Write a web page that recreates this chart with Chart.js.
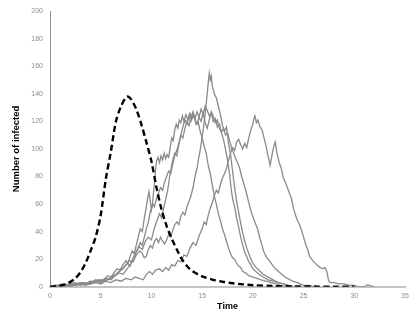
<!DOCTYPE html>
<html>
<head>
<meta charset="utf-8">
<script src="https://cdn.jsdelivr.net/npm/chart.js@4"></script>
<style>
html,body{margin:0;padding:0;background:#fff;}
#wrap{width:415px;height:319px;position:relative;}
</style>
</head>
<body>
<div id="wrap"><canvas id="c"></canvas></div>
<script>
// Axis ticks
const xTicks = [0, 5, 10, 15, 20, 25, 30, 35];
const yTicks = [0, 20, 40, 60, 80, 100, 120, 140, 160, 180, 200];

// Deterministic model (dashed)
const detT = [0,0.5,1,1.5,2,2.5,3,3.5,4,4.5,5,5.5,6,6.5,7,7.5,7.7,8,8.5,9,9.5,10,10.5,11,11.5,12,12.5,13,13.5,14,15,16,17,18,19,20,22,24,26,28,30];
const detI = [0,0.3,0.8,1.6,3.5,6,10.5,17,26,36,52,78,98,120,131,137.5,138,136,129,118,105,91,72,56,44,35,27,20,15,11.5,7.5,5.2,3.6,2.5,1.7,1.1,0.5,0.2,0.1,0,0];

// Stochastic run 1
const run1T = [0,0.4,0.8,1.2,1.6,2.0,2.4,2.8,3.2,3.6,4.0,4.4,4.8,5.1,5.4,5.7,6.0,6.3,6.6,6.9,7.2,7.5,7.7,7.9,8.1,8.3,8.5,8.7,8.9,9.1,9.3,9.5,9.6,9.75,9.85,10.0,10.1,10.2,10.3,10.4,10.5,10.65,10.8,10.95,11.1,11.25,11.4,11.55,11.7,11.85,12.0,12.15,12.3,12.45,12.6,12.75,12.9,13.05,13.2,13.4,13.6,13.8,14.0,14.2,14.4,14.6,14.8,15.0,15.2,15.4,15.6,15.8,16.0,16.2,16.4,16.6,16.8,17.0,17.2,17.4,17.6,17.8,18.0,18.2,18.4,18.6,18.8,19.0,19.3,19.6,20.0,20.4,20.8,21.3,21.8,22.3,22.7,23.2];
const run1I = [0,1,1,2,1,2,3,2,3,2,4,3,5,4,6,8,7,10,13,12,16,19,17,22,26,24,30,36,42,40,50,58,63,69,64,56,60,68,76,84,91,94,90,95,92,97,93,96,94,101,108,106,114,118,115,121,119,124,120,125,121,126,122,124,118,120,113,108,102,97,88,82,74,66,60,53,48,42,38,33,28,24,21,20,17,15,14,11,10,8,7,6,5,4,3,2,1,0];

// Stochastic run 2
const run2T = [0,0.5,1.0,1.5,2.0,2.5,3.0,3.5,4.0,4.5,5.0,5.5,6.0,6.4,6.8,7.2,7.6,8.0,8.3,8.6,8.9,9.1,9.3,9.5,9.7,9.85,10.0,10.15,10.3,10.5,10.7,10.9,11.1,11.3,11.5,11.7,11.9,12.1,12.3,12.5,12.7,12.9,13.1,13.3,13.5,13.7,13.9,14.1,14.3,14.5,14.7,14.9,15.1,15.3,15.5,15.7,15.9,16.1,16.3,16.5,16.7,16.9,17.1,17.3,17.5,17.7,17.85,18.0,18.2,18.4,18.6,18.8,19.0,19.2,19.4,19.6,19.8,20.0,20.3,20.6,21.0,21.5,22.0,22.5,23.0,23.5,24.0];
const run2I = [0,1,0,1,2,1,2,3,2,4,3,5,6,8,10,9,13,17,22,27,32,30,36,42,47,53,57,60,58,64,68,72,70,76,80,84,82,89,95,99,104,110,116,121,118,124,120,126,122,127,123,129,125,131,128,124,126,120,122,116,118,112,107,100,92,82,72,64,58,50,43,36,30,25,22,18,16,13,11,9,7,5,4,3,2,1,0];

// Stochastic run 3
const run3T = [0,0.5,1.0,1.5,2.0,2.5,3.0,3.5,4.0,4.5,5.0,5.5,6.0,6.4,6.8,7.2,7.6,7.9,8.2,8.5,8.8,9.1,9.4,9.7,10.0,10.2,10.4,10.6,10.8,11.0,11.2,11.4,11.6,11.8,11.95,12.1,12.3,12.5,12.7,12.9,13.1,13.3,13.5,13.7,13.9,14.1,14.3,14.5,14.7,14.9,15.1,15.3,15.5,15.7,15.9,16.1,16.3,16.5,16.7,16.9,17.1,17.3,17.5,17.7,17.9,18.1,18.3,18.5,18.7,18.9,19.1,19.3,19.5,19.7,19.9,20.1,20.3,20.5,20.7,20.9,21.1,21.3,21.5,21.7,21.9,22.1,22.4,22.7,23.0,23.4,23.9,24.4,25.0,25.5,26.0];
const run3I = [0,0,1,2,1,2,3,2,3,5,4,6,5,8,11,13,17,15,21,25,29,27,33,36,34,40,45,49,53,50,57,63,70,80,86,92,97,95,103,110,108,115,120,117,123,127,121,118,123,120,126,119,115,121,127,124,119,121,115,112,115,110,112,106,101,97,93,90,86,80,75,70,64,58,53,49,45,41,35,30,25,22,20,18,16,14,12,10,8,6,4,3,1,1,0];

// Stochastic run 4
const run4T = [0,0.5,1.0,1.5,2.0,2.5,3.0,3.5,4.0,4.5,5.0,5.5,6.0,6.5,7.0,7.4,7.8,8.2,8.5,8.85,9.1,9.3,9.5,9.7,9.9,10.1,10.3,10.5,10.7,10.9,11.1,11.3,11.5,11.7,11.9,12.1,12.3,12.5,12.7,12.9,13.1,13.3,13.5,13.7,13.9,14.1,14.3,14.5,14.65,14.8,14.95,15.1,15.25,15.4,15.5,15.6,15.7,15.8,15.9,16.0,16.2,16.4,16.6,16.8,17.0,17.2,17.4,17.6,17.8,18.0,18.2,18.4,18.6,18.8,19.0,19.2,19.4,19.6,19.8,20.0,20.3,20.6,21.0,21.5,22.0,22.5,23.0,23.5,24.0];
const run4I = [0,1,1,0,1,2,1,2,4,3,5,4,7,9,12,15,19,18,23,26,24,21,22,27,30,28,33,35,32,36,33,31,34,38,36,41,45,47,45,51,54,52,58,62,66,72,80,86,93,99,106,114,122,133,140,148,155,150,153,146,140,137,131,125,117,113,116,104,96,84,72,62,54,46,39,33,28,24,20,17,14,12,9,7,5,3,2,1,0];

// Stochastic run 5
const run5T = [0,0.5,1.0,1.5,2.0,2.5,3.0,3.5,4.0,4.5,5.0,5.5,6.0,6.5,7.0,7.5,8.0,8.4,8.8,9.2,9.5,9.8,10.1,10.4,10.8,11.1,11.4,11.7,12.0,12.3,12.6,12.9,13.2,13.5,13.8,14.1,14.4,14.7,15.0,15.2,15.4,15.6,15.8,16.0,16.2,16.4,16.6,16.8,17.0,17.2,17.4,17.6,17.8,18.0,18.2,18.4,18.6,18.8,19.0,19.2,19.4,19.6,19.8,20.0,20.1,20.2,20.35,20.5,20.7,20.9,21.1,21.3,21.5,21.7,21.9,22.1,22.2,22.4,22.6,22.8,23.0,23.2,23.4,23.6,23.8,24.0,24.2,24.4,24.6,24.8,25.0,25.2,25.4,25.6,25.8,26.0,26.3,26.6,26.9,27.1,27.3,27.45,27.6,28.0,28.5,29.0,29.5,30.0,30.4,31.0,31.3,31.7,32.0];
const run5I = [0,0,1,1,0,1,2,1,2,3,2,4,3,5,4,6,5,7,6,5,9,11,9,12,13,11,14,12,16,15,19,18,23,22,28,32,30,37,42,47,45,52,57,61,66,70,68,74,79,82,86,92,97,101,99,105,107,103,100,104,101,108,114,118,122,124,119,121,116,114,108,102,95,88,96,103,105,96,90,86,79,76,72,68,64,57,52,48,45,41,36,31,27,22,20,18,16,14,13,14,11,5,3,3,2,2,1,1,0,0,1.5,0.5,0];

const pts = (t, v) => t.map((x, i) => ({x: x, y: v[i]}));
const GRAY = '#8a8a8a';
const gray = (t, v) => ({data: pts(t, v), borderColor: GRAY, borderWidth: 1.3, pointRadius: 0, tension: 0, fill: false});

new Chart(document.getElementById('c'), {
  type: 'line',
  data: {
    datasets: [
      {data: pts(detT, detI), borderColor: '#000', borderWidth: 2.4, borderDash: [6, 3.5], pointRadius: 0, tension: 0.3, fill: false},
      gray(run1T, run1I),
      gray(run2T, run2I),
      gray(run3T, run3I),
      gray(run4T, run4I),
      gray(run5T, run5I)
    ]
  },
  options: {
    responsive: true,
    maintainAspectRatio: false,
    animation: false,
    layout: {padding: {left: 0, right: 10, top: 7, bottom: 0}},
    plugins: {legend: {display: false}, tooltip: {enabled: false}},
    scales: {
      x: {
        type: 'linear', min: 0, max: 35,
        afterBuildTicks: s => { s.ticks = xTicks.map(v => ({value: v})); },
        afterFit: s => { s.height = 32.3; },
        grid: {display: false, drawTicks: false},
        border: {display: true, color: '#c4c4c4', width: 2},
        ticks: {color: '#8c8c8c', font: {family: 'Liberation Sans, Arial', size: 7}, padding: 5, maxRotation: 0},
        title: {display: true, text: 'Time', color: '#000', font: {family: 'Liberation Sans, Arial', size: 9, weight: 'bold'}, padding: {top: 0, bottom: 7}}
      },
      y: {
        type: 'linear', min: 0, max: 200,
        afterBuildTicks: s => { s.ticks = yTicks.map(v => ({value: v})); },
        afterFit: s => { s.width = 50; },
        grid: {display: false, drawTicks: false},
        border: {display: true, color: '#8c8c8c', width: 1},
        ticks: {color: '#8c8c8c', font: {family: 'Liberation Sans, Arial', size: 7}, padding: 7},
        title: {display: true, text: 'Number of infected', color: '#000', font: {family: 'Liberation Sans, Arial', size: 9.5, weight: 'bold'}, padding: {top: 11, bottom: 0}}
      }
    }
  }
});
</script>
</body>
</html>
